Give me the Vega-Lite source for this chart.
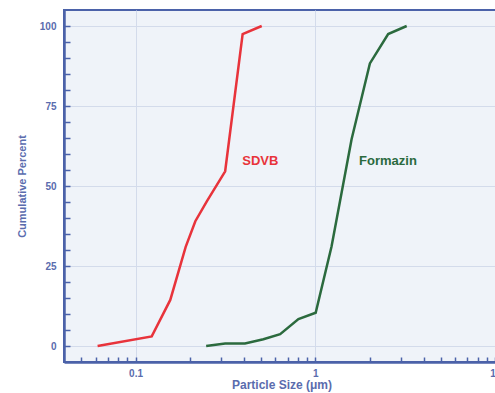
{
  "$schema": "https://vega.github.io/schema/vega-lite/v6.json",
  "autosize": "none",
  "width": 435,
  "height": 352,
  "padding": {"left": 64, "top": 10, "right": 0, "bottom": 31},
  "background": "white",
  "config": {
    "view": {"fill": "#eff3f9", "stroke": "#4b62a9", "strokeWidth": 2},
    "axis": {
      "domainColor": "#4b62a9", "domainWidth": 2.5,
      "tickColor": "#4b62a9", "tickWidth": 1.5,
      "labelColor": "#5a6cae", "labelFont": "Liberation Sans", "labelFontWeight": "bold", "labelFontSize": 10,
      "titleColor": "#5a6cae", "titleFont": "Liberation Sans", "titleFontWeight": "bold", "titleFontSize": 11,
      "gridColor": "#d3dbeb", "gridWidth": 1
    }
  },
  "datasets": {
    "curves": [
      {"size": 0.0615, "pct": 0, "sample": "SDVB"},
      {"size": 0.123, "pct": 3, "sample": "SDVB"},
      {"size": 0.156, "pct": 14.4, "sample": "SDVB"},
      {"size": 0.19, "pct": 31, "sample": "SDVB"},
      {"size": 0.215, "pct": 39, "sample": "SDVB"},
      {"size": 0.249, "pct": 45.2, "sample": "SDVB"},
      {"size": 0.315, "pct": 54.6, "sample": "SDVB"},
      {"size": 0.394, "pct": 97.5, "sample": "SDVB"},
      {"size": 0.503, "pct": 100, "sample": "SDVB"},
      {"size": 0.247, "pct": 0, "sample": "Formazin"},
      {"size": 0.315, "pct": 0.8, "sample": "Formazin"},
      {"size": 0.406, "pct": 0.8, "sample": "Formazin"},
      {"size": 0.514, "pct": 2.1, "sample": "Formazin"},
      {"size": 0.637, "pct": 3.7, "sample": "Formazin"},
      {"size": 0.805, "pct": 8.4, "sample": "Formazin"},
      {"size": 1.004, "pct": 10.4, "sample": "Formazin"},
      {"size": 1.23, "pct": 31.1, "sample": "Formazin"},
      {"size": 1.59, "pct": 64.6, "sample": "Formazin"},
      {"size": 2.01, "pct": 88.3, "sample": "Formazin"},
      {"size": 2.54, "pct": 97.5, "sample": "Formazin"},
      {"size": 3.22, "pct": 100, "sample": "Formazin"}
    ],
    "labels": [
      {"size": 0.392, "pct": 57.7, "sample": "SDVB"},
      {"size": 1.75, "pct": 57.7, "sample": "Formazin"}
    ]
  },
  "encoding": {
    "x": {
      "field": "size", "type": "quantitative",
      "scale": {"type": "log", "domain": [0.04, 10.5], "nice": false},
      "axis": {
        "title": "Particle Size (\u03bcm)",
        "titleFontSize": 12,
        "values": [0.05, 0.06, 0.07, 0.08, 0.09, 0.1, 0.2, 0.3, 0.4, 0.5, 0.6, 0.7, 0.8, 0.9, 1, 2, 3, 4, 5, 6, 7, 8, 9, 10],
        "labelExpr": "datum.value == 0.1 ? '0.1' : (datum.value == 1 ? '1' : (datum.value == 10 ? '10' : ''))",
        "tickSize": -5,
        "labelPadding": 11,
        "titlePadding": 1,
        "gridOpacity": {"condition": {"test": "datum.value == 0.1 || datum.value == 1 || datum.value == 10", "value": 1}, "value": 0},
        "labelFlush": false
      }
    },
    "y": {
      "field": "pct", "type": "quantitative",
      "scale": {"domain": [-5, 105], "nice": false, "zero": false},
      "axis": {
        "title": "Cumulative Percent",
        "values": [0, 5, 10, 15, 20, 25, 30, 35, 40, 45, 50, 55, 60, 65, 70, 75, 80, 85, 90, 95, 100],
        "labelExpr": "datum.value % 25 === 0 ? datum.label : ''",
        "tickSize": -6,
        "labelPadding": 14,
        "titlePadding": 12,
        "gridOpacity": {"condition": {"test": "datum.value % 25 === 0", "value": 1}, "value": 0}
      }
    },
    "color": {
      "field": "sample", "type": "nominal",
      "scale": {"domain": ["SDVB", "Formazin"], "range": ["#e8333b", "#2b6a3e"]},
      "legend": null
    }
  },
  "layer": [
    {
      "data": {"name": "curves"},
      "mark": {"type": "line", "strokeWidth": 2.5},
      "encoding": {"detail": {"field": "sample"}}
    },
    {
      "data": {"name": "labels"},
      "mark": {"type": "text", "align": "left", "baseline": "middle", "font": "Liberation Sans", "fontWeight": "bold", "fontSize": 13},
      "encoding": {"text": {"field": "sample"}}
    }
  ]
}
